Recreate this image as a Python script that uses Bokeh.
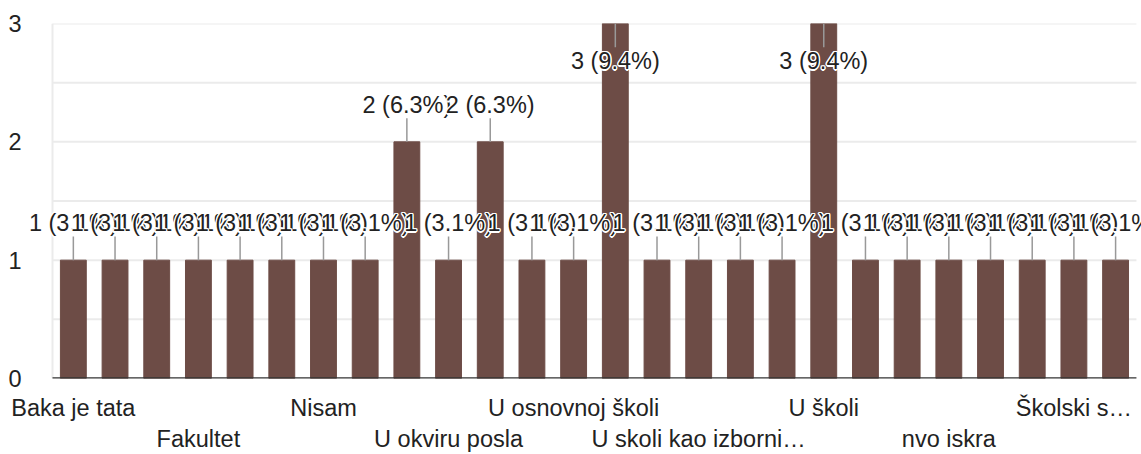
import math
from bokeh.plotting import figure
from bokeh.models import ColumnDataSource, Label, LinearAxis, FixedTicker, Range1d
from bokeh.embed import file_html
from bokeh.resources import INLINE

# ---- data ----
values = [1, 1, 1, 1, 1, 1, 1, 1, 2, 1, 2, 1, 1, 3, 1, 1, 1, 1, 3, 1, 1, 1, 1, 1, 1, 1]
respondents = 32
labels_row1 = {0: "Baka je tata", 6: "Nisam", 12: "U osnovnoj školi", 18: "U školi", 24: "Školski s…"}
labels_row2 = {3: "Fakultet", 9: "U okviru posla", 15: "U skoli kao izborni…", 21: "nvo iskra"}
y_ticks = [0, 1, 2, 3]
y_minor = [0.5, 1.5, 2.5]

BAR = "#6d4c46"
TXT = "#222222"
GRID = "#ebebeb"
FONT = "Liberation Sans"
FS = "23.5px"

ymax = 3
n = len(values)
xs = list(range(n))

# layout: plot area from px 52 to 1136, frame extended left/right so value labels are not clipped
LEFT_PAD, PX_PER_BAR, W = 26, 41.69, 1141
x_start = -0.5 - LEFT_PAD / PX_PER_BAR
x_end = x_start + (W - 26) / PX_PER_BAR


def pct(v):
    p = v / respondents * 100
    return f"{math.floor(p * 10 + 0.5) / 10:.1f}"


lab_text = [f"{v} ({pct(v)}%)" for v in values]
lab_y, l0, l1 = [], [], []
for v in values:
    if v + 0.45 > ymax:
        lab_y.append(v - 0.32)
        l0.append(v)
        l1.append(v - 0.2)
    else:
        lab_y.append(v + 0.31)
        l0.append(v)
        l1.append(v + 0.2)

src = ColumnDataSource(dict(x=xs, top=values, l0=l0, l1=l1))
grid_y = [t for t in y_ticks if t > 0] + y_minor
grid_src = ColumnDataSource(dict(y=grid_y, x0=[-0.5] * len(grid_y), x1=[n - 0.5] * len(grid_y)))

p = figure(width=W, height=454, x_range=Range1d(x_start, x_end), y_range=Range1d(0, ymax),
           output_backend="svg", toolbar_location=None, x_axis_location=None,
           min_border_top=23, min_border_left=LEFT_PAD, min_border_right=0, min_border_bottom=0)
p.outline_line_color = None
p.background_fill_color = "white"
p.border_fill_color = "white"
p.xgrid.visible = False
p.ygrid.visible = False

yax = p.yaxis[0]
yax.ticker = FixedTicker(ticks=y_ticks)
yax.axis_line_color = None
yax.major_tick_line_color = None
yax.minor_tick_line_color = None
yax.major_tick_out = 0
yax.major_tick_in = 0
yax.minor_tick_out = 0
yax.major_label_standoff = 5
yax.major_label_text_font = FONT
yax.major_label_text_font_size = FS
yax.major_label_text_color = TXT

# gridlines and left border of the plot area
p.segment(x0="x0", y0="y", x1="x1", y1="y", line_color=GRID, line_width=2, source=grid_src)
p.segment(x0=[-0.5], y0=[0], x1=[-0.5], y1=[ymax], line_color=GRID, line_width=2)

p.vbar(x="x", top="top", width=0.62, color=BAR, source=src)

# baseline
p.segment(x0=[-0.5], y0=[0], x1=[n - 0.5], y1=[0], line_color="#333333", line_width=2.5)

p.segment(x0="x", y0="l0", x1="x", y1="l1", line_color="#999999", line_width=1.5, source=src)


def make_axis(labels, standoff):
    ax = LinearAxis(ticker=FixedTicker(ticks=list(labels.keys())),
                    major_label_overrides={k: v for k, v in labels.items()})
    ax.axis_line_color = None
    ax.major_tick_line_color = None
    ax.minor_tick_line_color = None
    ax.major_tick_out = 0
    ax.major_tick_in = 0
    ax.minor_tick_out = 0
    ax.minor_tick_in = 0
    ax.major_label_standoff = standoff
    ax.major_label_text_font = FONT
    ax.major_label_text_font_size = FS
    ax.major_label_text_color = TXT
    return ax


p.add_layout(make_axis(labels_row1, 16), "below")
p.add_layout(make_axis(labels_row2, 2), "below")

# value labels: white halo, then text, one bar after the other
halo = [(-1.3, 0), (1.3, 0), (0, -1.5), (0, 1.5), (-1, -1), (1, -1), (-1, 1), (1, 1)]
for x, y, t in zip(xs, lab_y, lab_text):
    for dx, dy in halo:
        p.add_layout(Label(x=x, y=y, text=t, x_offset=dx, y_offset=dy, text_align="center",
                           text_baseline="middle", text_font=FONT, text_font_size=FS,
                           text_color="white"))
    p.add_layout(Label(x=x, y=y, text=t, text_align="center", text_baseline="middle",
                       text_font=FONT, text_font_size=FS, text_color=TXT))

open("out.html", "w").write(file_html(p, INLINE))
